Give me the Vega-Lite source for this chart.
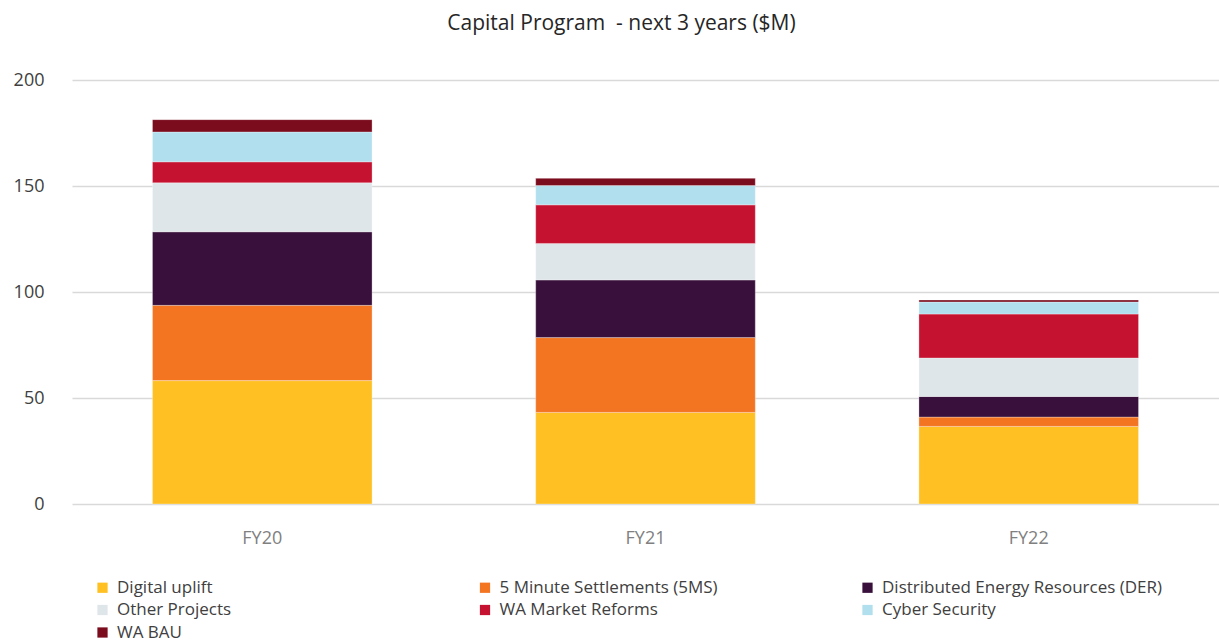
{
  "$schema": "https://vega.github.io/schema/vega-lite/v6.json",
  "autosize": "none",
  "width": 1147,
  "height": 424,
  "padding": {"left": 72, "top": 80, "right": 0, "bottom": 137},
  "background": "white",
  "title": {
    "text": "Capital Program \u00a0- next 3 years ($M)",
    "font": "Open Sans",
    "fontSize": 21,
    "fontWeight": "normal",
    "color": "#262626",
    "offset": 37,
    "dx": -24
  },
  "config": {
    "view": {"stroke": null},
    "font": "Open Sans"
  },
  "data": {
    "values": [
      {"year": "FY20", "category": "Digital uplift", "value": 58.2},
      {"year": "FY20", "category": "5 Minute Settlements (5MS)", "value": 35.5},
      {"year": "FY20", "category": "Distributed Energy Resources (DER)", "value": 34.7},
      {"year": "FY20", "category": "Other Projects", "value": 23.1},
      {"year": "FY20", "category": "WA Market Reforms", "value": 9.9},
      {"year": "FY20", "category": "Cyber Security", "value": 14.1},
      {"year": "FY20", "category": "WA BAU", "value": 5.8},
      {"year": "FY21", "category": "Digital uplift", "value": 43.2},
      {"year": "FY21", "category": "5 Minute Settlements (5MS)", "value": 35.3},
      {"year": "FY21", "category": "Distributed Energy Resources (DER)", "value": 27.2},
      {"year": "FY21", "category": "Other Projects", "value": 17.2},
      {"year": "FY21", "category": "WA Market Reforms", "value": 18.2},
      {"year": "FY21", "category": "Cyber Security", "value": 9.1},
      {"year": "FY21", "category": "WA BAU", "value": 3.4},
      {"year": "FY22", "category": "Digital uplift", "value": 36.6},
      {"year": "FY22", "category": "5 Minute Settlements (5MS)", "value": 4.4},
      {"year": "FY22", "category": "Distributed Energy Resources (DER)", "value": 9.7},
      {"year": "FY22", "category": "Other Projects", "value": 18.2},
      {"year": "FY22", "category": "WA Market Reforms", "value": 20.7},
      {"year": "FY22", "category": "Cyber Security", "value": 5.7},
      {"year": "FY22", "category": "WA BAU", "value": 0.9}
    ]
  },
  "transform": [
    {"calculate": "indexof(['Digital uplift', '5 Minute Settlements (5MS)', 'Distributed Energy Resources (DER)', 'Other Projects', 'WA Market Reforms', 'Cyber Security', 'WA BAU'], datum.category)", "as": "stackOrder"}
  ],
  "mark": {"type": "bar", "stroke": "#ffffff", "strokeWidth": 0.5, "strokeOpacity": 0.6},
  "encoding": {
    "x": {
      "field": "year",
      "type": "nominal",
      "scale": {"paddingInner": 0.427, "paddingOuter": 0.21},
      "axis": {
        "title": null,
        "labelAngle": 0,
        "labelFontSize": 18,
        "labelColor": "#808080",
        "labelPadding": 25,
        "ticks": false,
        "domain": false
      }
    },
    "y": {
      "field": "value",
      "type": "quantitative",
      "stack": "zero",
      "scale": {"domain": [0, 200], "nice": false},
      "axis": {
        "title": null,
        "values": [0, 50, 100, 150, 200],
        "labelFontSize": 18,
        "labelColor": "#404040",
        "labelPadding": 28,
        "ticks": false,
        "domain": false,
        "gridColor": "#d9d9d9",
        "gridWidth": 1.5
      }
    },
    "order": {"field": "stackOrder", "type": "quantitative", "sort": "ascending"},
    "color": {
      "field": "category",
      "type": "nominal",
      "sort": ["Digital uplift", "5 Minute Settlements (5MS)", "Distributed Energy Resources (DER)", "Other Projects", "WA Market Reforms", "Cyber Security", "WA BAU"],
      "scale": {
        "domain": ["Digital uplift", "5 Minute Settlements (5MS)", "Distributed Energy Resources (DER)", "Other Projects", "WA Market Reforms", "Cyber Security", "WA BAU"],
        "range": ["#FEC023", "#F37521", "#38103B", "#DFE6E9", "#C41230", "#B1DFEE", "#7A0C1E"]
      },
      "legend": {
        "title": null,
        "orient": "none",
        "legendX": 22,
        "legendY": 499,
        "direction": "horizontal",
        "columns": 3,
        "gridAlign": "all",
        "columnPadding": 78.5,
        "rowPadding": 4.5,
        "symbolType": "square",
        "symbolSize": 105,
        "symbolStrokeWidth": 0,
        "labelFontSize": 17,
        "labelColor": "#404040",
        "labelOffset": 6,
        "labelLimit": 400
      }
    }
  }
}
